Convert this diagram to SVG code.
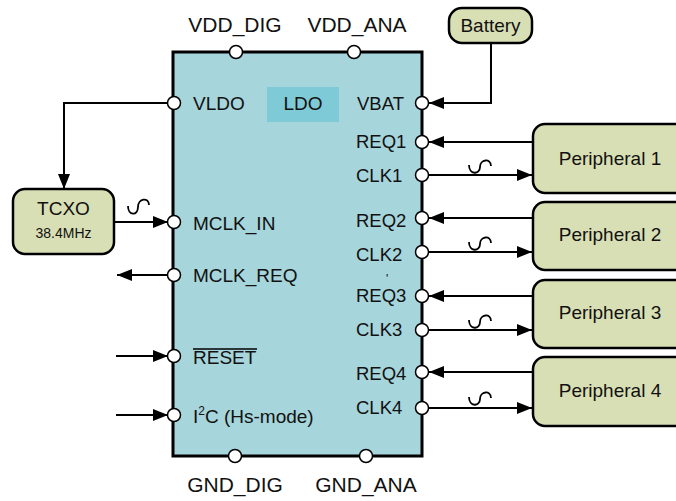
<svg xmlns="http://www.w3.org/2000/svg" width="676" height="501" viewBox="0 0 676 501">
<style>
text{font-family:"Liberation Sans",Arial,sans-serif;fill:#111}
.outer{font-size:21px}
.lab{font-size:18.5px}
.labl{font-size:19px}
.node{fill:#d9dfb4;stroke:#000;stroke-width:2.5}
.pin{fill:#fff;stroke:#000;stroke-width:1.5}
.wire{fill:none;stroke:#000;stroke-width:2}
.tilde{fill:none;stroke:#000;stroke-width:1.8}
</style>
<defs>
<marker id="ah" markerUnits="userSpaceOnUse" markerWidth="15" markerHeight="12" refX="15" refY="6" orient="auto">
<path d="M0,0 L15,6 L0,12 z" fill="#000"/>
</marker>
</defs>

<g id="chip">
<rect x="173" y="52" width="249" height="404" fill="#a6d5dc" stroke="#000" stroke-width="3"/>
<rect x="267" y="87" width="72" height="35" fill="#7fcad7"/>
<text x="303" y="110" class="labl" text-anchor="middle">LDO</text>
<text x="193" y="110" class="labl">VLDO</text>
<text x="193" y="230" class="labl">MCLK_IN</text>
<text x="193" y="282" class="labl">MCLK_REQ</text>
<text x="193" y="364" class="labl">RESET</text>
<line x1="193" y1="349" x2="257" y2="349" stroke="#000" stroke-width="1.3"/>
<text x="193" y="423" class="labl">I<tspan dy="-8" font-size="12">2</tspan><tspan dy="8">C (Hs-mode)</tspan></text>
<text x="357" y="110" class="lab">VBAT</text>
<text x="356" y="148" class="lab">REQ1</text>
<text x="356" y="182" class="lab">CLK1</text>
<text x="356" y="227" class="lab">REQ2</text>
<text x="356" y="261" class="lab">CLK2</text>
<text x="386" y="283" font-size="12">'</text>
<text x="356" y="302" class="lab">REQ3</text>
<text x="356" y="336" class="lab">CLK3</text>
<text x="356" y="380" class="lab">REQ4</text>
<text x="356" y="414" class="lab">CLK4</text>
<text x="235" y="32" class="outer" text-anchor="middle">VDD_DIG</text>
<text x="357" y="32" class="outer" text-anchor="middle">VDD_ANA</text>
<text x="235" y="492" class="outer" text-anchor="middle">GND_DIG</text>
<text x="366" y="492" class="outer" text-anchor="middle">GND_ANA</text>
</g>

<g id="connectors">
<path class="wire" d="M168,103 H64 V189" marker-end="url(#ah)"/>
<path class="wire" d="M491,43 V103 H429" marker-end="url(#ah)"/>
<path class="wire" d="M114,222 H168" marker-end="url(#ah)"/>
<path class="wire" d="M168,275 H117" marker-end="url(#ah)"/>
<path class="wire" d="M116,356 H168" marker-end="url(#ah)"/>
<path class="wire" d="M116,415 H168" marker-end="url(#ah)"/>
<path class="wire" d="M533,142 H429" marker-end="url(#ah)"/>
<path class="wire" d="M422,175 H532" marker-end="url(#ah)"/>
<path class="wire" d="M533,218 H429" marker-end="url(#ah)"/>
<path class="wire" d="M422,252 H532" marker-end="url(#ah)"/>
<path class="wire" d="M533,296 H429" marker-end="url(#ah)"/>
<path class="wire" d="M422,330 H532" marker-end="url(#ah)"/>
<path class="wire" d="M533,372 H429" marker-end="url(#ah)"/>
<path class="wire" d="M422,408 H532" marker-end="url(#ah)"/>
<path class="tilde" d="M128,206 C128,216 138,216 138,207 C138,198 149,197 149,205"/>
<path class="tilde" d="M469,165 C469,175 480,175 480,167 C480,159 491,158 491,166"/>
<path class="tilde" d="M469,242 C469,252 480,252 480,244 C480,236 491,235 491,243"/>
<path class="tilde" d="M469,320 C469,330 480,330 480,322 C480,314 491,313 491,321"/>
<path class="tilde" d="M469,397 C469,407 480,407 480,399 C480,391 491,390 491,398"/>
</g>

<g id="pins">
<circle class="pin" cx="236" cy="52" r="6.5"/>
<circle class="pin" cx="354" cy="52" r="6.5"/>
<circle class="pin" cx="235" cy="456" r="6.5"/>
<circle class="pin" cx="366" cy="456" r="6.5"/>
<circle class="pin" cx="174" cy="103" r="6.5"/>
<circle class="pin" cx="174" cy="222" r="6.5"/>
<circle class="pin" cx="174" cy="275" r="6.5"/>
<circle class="pin" cx="174" cy="356" r="6.5"/>
<circle class="pin" cx="174" cy="415" r="6.5"/>
<circle class="pin" cx="422" cy="103" r="6.5"/>
<circle class="pin" cx="422" cy="142" r="6.5"/>
<circle class="pin" cx="422" cy="175" r="6.5"/>
<circle class="pin" cx="422" cy="218" r="6.5"/>
<circle class="pin" cx="422" cy="252" r="6.5"/>
<circle class="pin" cx="422" cy="296" r="6.5"/>
<circle class="pin" cx="422" cy="330" r="6.5"/>
<circle class="pin" cx="422" cy="372" r="6.5"/>
<circle class="pin" cx="422" cy="408" r="6.5"/>
</g>

<g id="battery">
<rect class="node" x="449" y="8" width="83" height="35" rx="13"/>
<text x="490.5" y="32" class="labl" text-anchor="middle">Battery</text>
</g>
<g id="tcxo">
<rect class="node" x="13" y="189" width="101" height="65" rx="12"/>
<text x="63.5" y="215" class="labl" text-anchor="middle">TCXO</text>
<text x="63.5" y="238" font-size="14" text-anchor="middle">38.4MHz</text>
</g>
<g id="peripheral1">
<rect class="node" x="533" y="124" width="170" height="69" rx="12"/>
<text x="610" y="165" class="labl" text-anchor="middle">Peripheral 1</text>
</g>
<g id="peripheral2">
<rect class="node" x="533" y="202" width="170" height="68" rx="12"/>
<text x="610" y="241" class="labl" text-anchor="middle">Peripheral 2</text>
</g>
<g id="peripheral3">
<rect class="node" x="533" y="280" width="170" height="68" rx="12"/>
<text x="610" y="319" class="labl" text-anchor="middle">Peripheral 3</text>
</g>
<g id="peripheral4">
<rect class="node" x="533" y="357" width="170" height="69" rx="12"/>
<text x="610" y="397" class="labl" text-anchor="middle">Peripheral 4</text>
</g>
</svg>
